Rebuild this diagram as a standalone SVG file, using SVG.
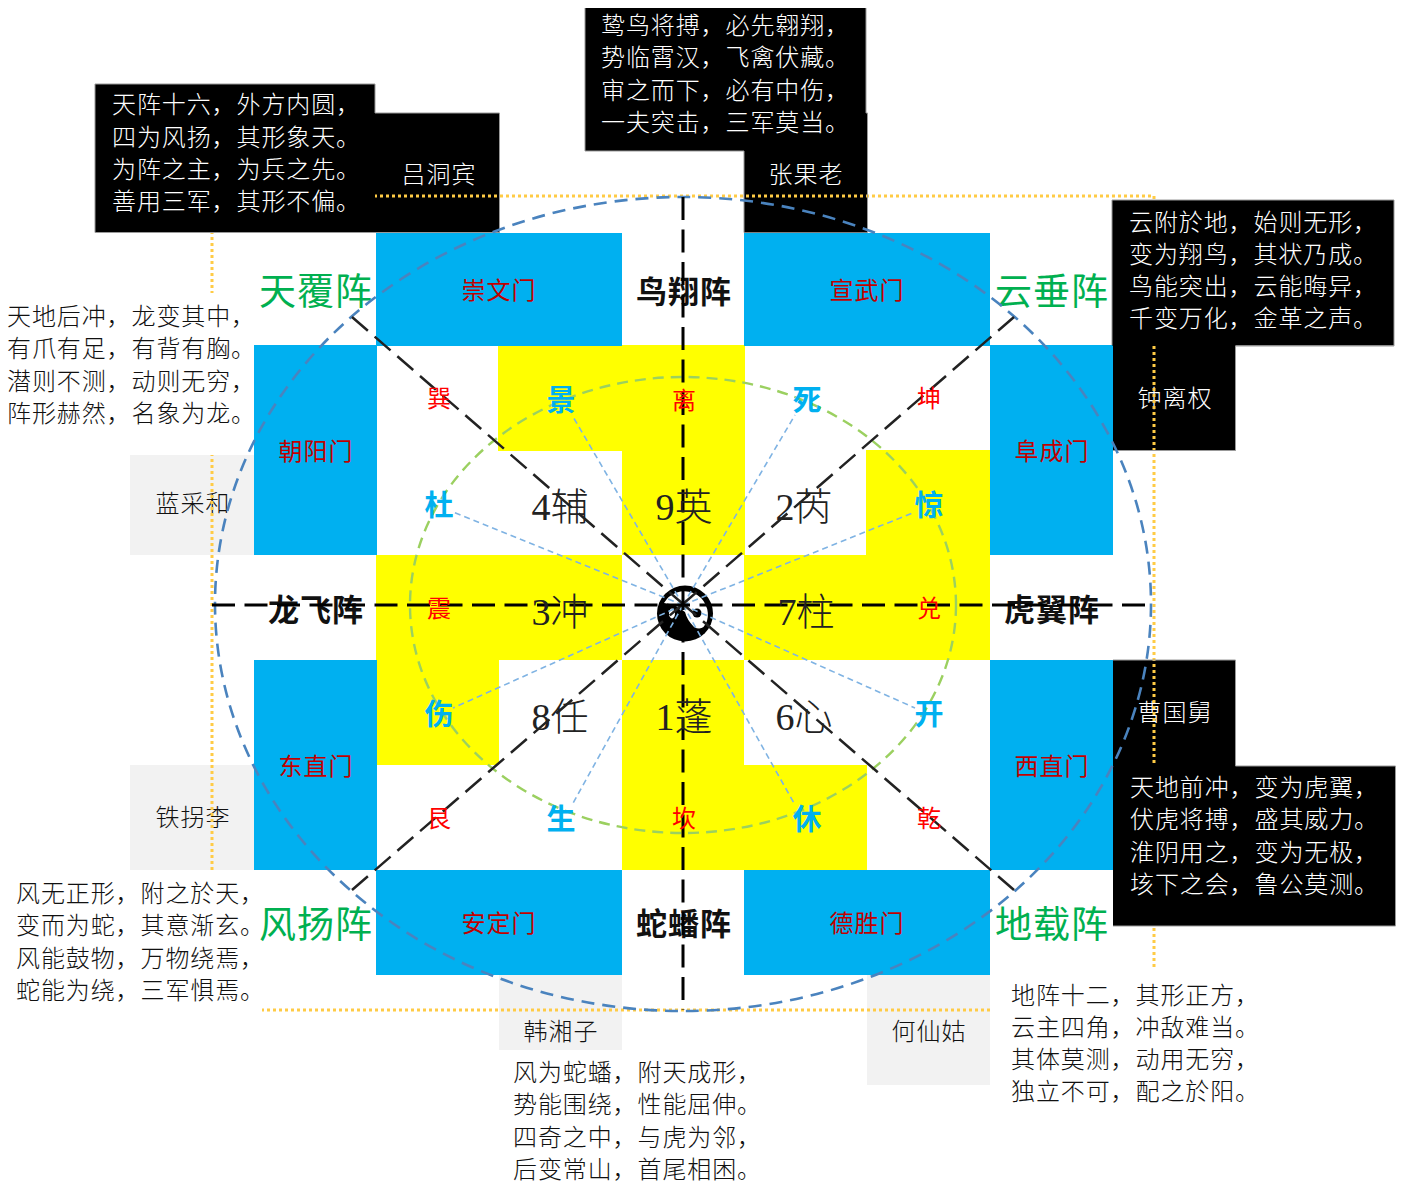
<svg xmlns="http://www.w3.org/2000/svg" width="1406" height="1187" viewBox="0 0 1406 1187">
<style>
text{font-family:"Noto Sans CJK SC","Noto Sans",sans-serif;font-weight:300;text-anchor:middle;font-size:24px;fill:#111}
.b{font-size:24px;text-anchor:start;letter-spacing:0.9px}
.w{fill:#fff}
.l{letter-spacing:1px}
.gate{fill:#00B0F0}.gt{fill:#C00000;letter-spacing:1px;font-weight:400}
.yel{fill:#FF0}.gray{fill:#F2F2F2}.blk{fill:#000}.wht{fill:#fff}
.edge{fill:none;stroke:#999;stroke-width:1}
.zhen{font-size:37px;fill:#00B050;font-weight:400;letter-spacing:1px}
.mid{font-size:31px;font-weight:700;fill:#111;letter-spacing:1px}
.gua{fill:#F00;font-size:24px;font-weight:400}
.men{font-size:29px;font-weight:700;fill:#00B0F0}
.star{font-size:38px;fill:#222}
.star tspan.n{font-family:"Liberation Serif",serif}
.dot{fill:none;stroke:#FFCB45;stroke-width:3;stroke-dasharray:3 3}
.axis{fill:none;stroke:#000;stroke-width:3;stroke-dasharray:23 9.5}
.diag{fill:none;stroke:#222;stroke-width:2.5;stroke-dasharray:21 9}
.ray{fill:none;stroke:#7FB3E3;stroke-width:1.6;stroke-dasharray:6 4}
.outer{fill:none;stroke:#4A83BE;stroke-width:2.6;stroke-dasharray:13 8}
.inner{fill:none;stroke:#9BD060;stroke-width:2.4;stroke-dasharray:11 7}
</style>

<g id="grid-yellow">
<path class="yel" d="M498,345H745V555H622V451H498Z"/>
<path class="yel" d="M866,450H990V660H744V555H866Z"/>
<path class="yel" d="M376,555H622V660H499V765H376Z"/>
<path class="yel" d="M622,660H744V765H867V870H622Z"/>
</g>

<g id="person-lvdongbin"><rect class="blk" x="375" y="113" width="124.500" height="119.500"/><text class="w l" x="439" y="183">吕洞宾</text></g>
<g id="person-zhangguolao"><rect class="blk" x="744" y="113" width="123.500" height="119.500"/><text class="w l" x="806" y="183">张果老</text></g>
<g id="person-zhongliquan"><rect class="blk" x="1113" y="345" width="122.500" height="105.500"/><text class="w l" x="1175" y="407">钟离权</text></g>
<g id="person-caoguojiu"><rect class="blk" x="1113" y="660" width="122.500" height="106"/><text class="w l" x="1175" y="721">曹国舅</text></g>
<g id="person-lancaihe"><rect class="gray" x="130" y="455" width="124" height="100"/><text class="l" x="193" y="512">蓝采和</text></g>
<g id="person-tieguaili"><rect class="gray" x="130" y="765" width="124" height="105"/><text class="l" x="193" y="826">铁拐李</text></g>
<g id="person-hanxiangzi"><rect class="gray" x="499" y="975" width="123" height="75"/><text class="l" x="561" y="1040">韩湘子</text></g>
<g id="person-hexiangu"><rect class="gray" x="867" y="975" width="123" height="110"/><text class="l" x="929" y="1040">何仙姑</text></g>

<g id="gate-chongwen"><rect class="gate" x="376" y="233" width="246" height="113"/><text class="gt" x="499" y="299">崇文门</text></g>
<g id="gate-xuanwu"><rect class="gate" x="744" y="233" width="246" height="113"/><text class="gt" x="867" y="299">宣武门</text></g>
<g id="gate-chaoyang"><rect class="gate" x="254" y="345" width="123" height="210"/><text class="gt" x="316" y="460">朝阳门</text></g>
<g id="gate-fucheng"><rect class="gate" x="990" y="345" width="123" height="210"/><text class="gt" x="1052" y="460">阜成门</text></g>
<g id="gate-dongzhi"><rect class="gate" x="254" y="660" width="123" height="210"/><text class="gt" x="316" y="775">东直门</text></g>
<g id="gate-xizhi"><rect class="gate" x="990" y="660" width="123" height="210"/><text class="gt" x="1052" y="775">西直门</text></g>
<g id="gate-anding"><rect class="gate" x="376" y="870" width="246" height="105"/><text class="gt" x="499" y="932">安定门</text></g>
<g id="gate-desheng"><rect class="gate" x="744" y="870" width="246" height="105"/><text class="gt" x="867" y="932">德胜门</text></g>

<g id="connectors-frame"><rect class="dot" x="212" y="196" width="942" height="814"/></g>

<g id="note-left"><rect class="wht" x="0" y="293" width="250" height="162"/>
<text class="b" x="7" y="325">天地后冲，龙变其中，</text><text class="b" x="7" y="357">有爪有足，有背有胸。</text><text class="b" x="7" y="390">潜则不测，动则无穷，</text><text class="b" x="7" y="422">阵形赫然，名象为龙。</text></g>
<g id="note-bottom-left"><rect class="wht" x="5" y="870" width="257" height="145"/>
<text class="b" x="16" y="902">风无正形，附之於天，</text><text class="b" x="16" y="934">变而为蛇，其意渐玄。</text><text class="b" x="16" y="967">风能鼓物，万物绕焉，</text><text class="b" x="16" y="999">蛇能为绕，三军惧焉。</text></g>
<g id="note-bottom-right"><rect class="wht" x="992" y="968" width="262" height="140"/>
<text class="b" x="1011" y="1004">地阵十二，其形正方，</text><text class="b" x="1011" y="1036">云主四角，冲敌难当。</text><text class="b" x="1011" y="1068">其体莫测，动用无穷，</text><text class="b" x="1011" y="1100">独立不可，配之於阳。</text></g>
<g id="note-bottom-mid">
<text class="b" x="513" y="1081">风为蛇蟠，附天成形，</text><text class="b" x="513" y="1113">势能围绕，性能屈伸。</text><text class="b" x="513" y="1146">四奇之中，与虎为邻，</text><text class="b" x="513" y="1178">后变常山，首尾相困。</text></g>
<g id="note-top-left"><rect class="blk" x="95" y="84" width="280" height="148.500"/><path class="edge" d="M375,113H499.500V232.500H95V84H375V113"/>
<text class="b w" x="112" y="113">天阵十六，外方内圆，</text><text class="b w" x="112" y="146">四为风扬，其形象天。</text><text class="b w" x="112" y="178">为阵之主，为兵之先。</text><text class="b w" x="112" y="210">善用三军，其形不偏。</text></g>
<g id="note-top"><rect class="blk" x="585" y="8" width="281" height="143"/><path class="edge" d="M585,8V151H744V232.500M867.500,232.500V113H866V8"/>
<text class="b w" x="601" y="34">鸷鸟将搏，必先翱翔，</text><text class="b w" x="601" y="66">势临霄汉，飞禽伏藏。</text><text class="b w" x="601" y="99">审之而下，必有中伤，</text><text class="b w" x="601" y="131">一夫突击，三军莫当。</text></g>
<g id="note-top-right"><rect class="blk" x="1112" y="200" width="282" height="145.500"/><path class="edge" d="M1112,345V200H1394V346H1235.500V450.500H1113"/>
<text class="b w" x="1129" y="231">云附於地，始则无形，</text><text class="b w" x="1129" y="263">变为翔鸟，其状乃成。</text><text class="b w" x="1129" y="295">鸟能突出，云能晦异，</text><text class="b w" x="1129" y="327">千变万化，金革之声。</text></g>
<g id="note-right"><rect class="blk" x="1113" y="766" width="282" height="160"/><path class="edge" d="M1113,660H1235.500V766H1395.500V926H1113"/>
<text class="b w" x="1130" y="796">天地前冲，变为虎翼，</text><text class="b w" x="1130" y="828">伏虎将搏，盛其威力。</text><text class="b w" x="1130" y="861">淮阴用之，变为无极，</text><text class="b w" x="1130" y="893">垓下之会，鲁公莫测。</text></g>

<g id="formation-names">
<text class="zhen" x="316" y="305">天覆阵</text>
<text class="zhen" x="1052" y="305">云垂阵</text>
<text class="zhen" x="316" y="938">风扬阵</text>
<text class="zhen" x="1052" y="938">地载阵</text>
<text class="mid" x="684" y="303">鸟翔阵</text>
<text class="mid" x="684" y="935">蛇蟠阵</text>
<text class="mid" x="316" y="621">龙飞阵</text>
<text class="mid" x="1052" y="621">虎翼阵</text>
</g>

<g id="taiji">
<circle cx="685" cy="613.500" r="28" fill="#000"/>
<path fill="#fff" d="M664,603A23.500,23.500 0 0 1 707,621Q703,632 694,627Q687,620 685,612Q676,604 664,603Z"/>
<circle cx="697" cy="613" r="4.500" fill="#000"/>
<ellipse cx="672" cy="613.500" rx="3" ry="5" fill="#fff"/>
</g>

<g id="connectors">
<ellipse class="inner" cx="683" cy="605" rx="273" ry="228"/>
<ellipse class="outer" cx="683" cy="604" rx="468" ry="407"/>
<path class="ray" d="M683,605L572,415M683,605L795,415M683,605L915,512M683,605L915,708M683,605L795,805M683,605L572,805M683,605L453,708M683,605L453,512"/>
<path class="diag" d="M352,317L683,604M1014,317L683,604M352,890L683,604M1014,890L683,604"/>
<path class="axis" d="M683,197V1010M212,605H1150"/>
</g>

<g id="trigrams">
<text class="gua" x="439" y="407">巽</text>
<text class="gua" x="684" y="409">离</text>
<text class="gua" x="929" y="407">坤</text>
<text class="gua" x="439" y="617">震</text>
<text class="gua" x="929" y="617">兑</text>
<text class="gua" x="439" y="827">艮</text>
<text class="gua" x="684" y="827">坎</text>
<text class="gua" x="929" y="827">乾</text>
</g>
<g id="doors">
<text class="men" x="561" y="411">景</text>
<text class="men" x="807" y="411">死</text>
<text class="men" x="439" y="516">杜</text>
<text class="men" x="929" y="516">惊</text>
<text class="men" x="439" y="725">伤</text>
<text class="men" x="929" y="725">开</text>
<text class="men" x="561" y="830">生</text>
<text class="men" x="807" y="830">休</text>
</g>
<g id="stars">
<text class="star" x="560" y="520"><tspan class="n">4</tspan>辅</text>
<text class="star" x="684" y="520"><tspan class="n">9</tspan>英</text>
<text class="star" x="804" y="520"><tspan class="n">2</tspan>芮</text>
<text class="star" x="560" y="625"><tspan class="n">3</tspan>冲</text>
<text class="star" x="806" y="625"><tspan class="n">7</tspan>柱</text>
<text class="star" x="560" y="730"><tspan class="n">8</tspan>任</text>
<text class="star" x="684" y="730"><tspan class="n">1</tspan>蓬</text>
<text class="star" x="804" y="730"><tspan class="n">6</tspan>心</text>
</g>
</svg>
